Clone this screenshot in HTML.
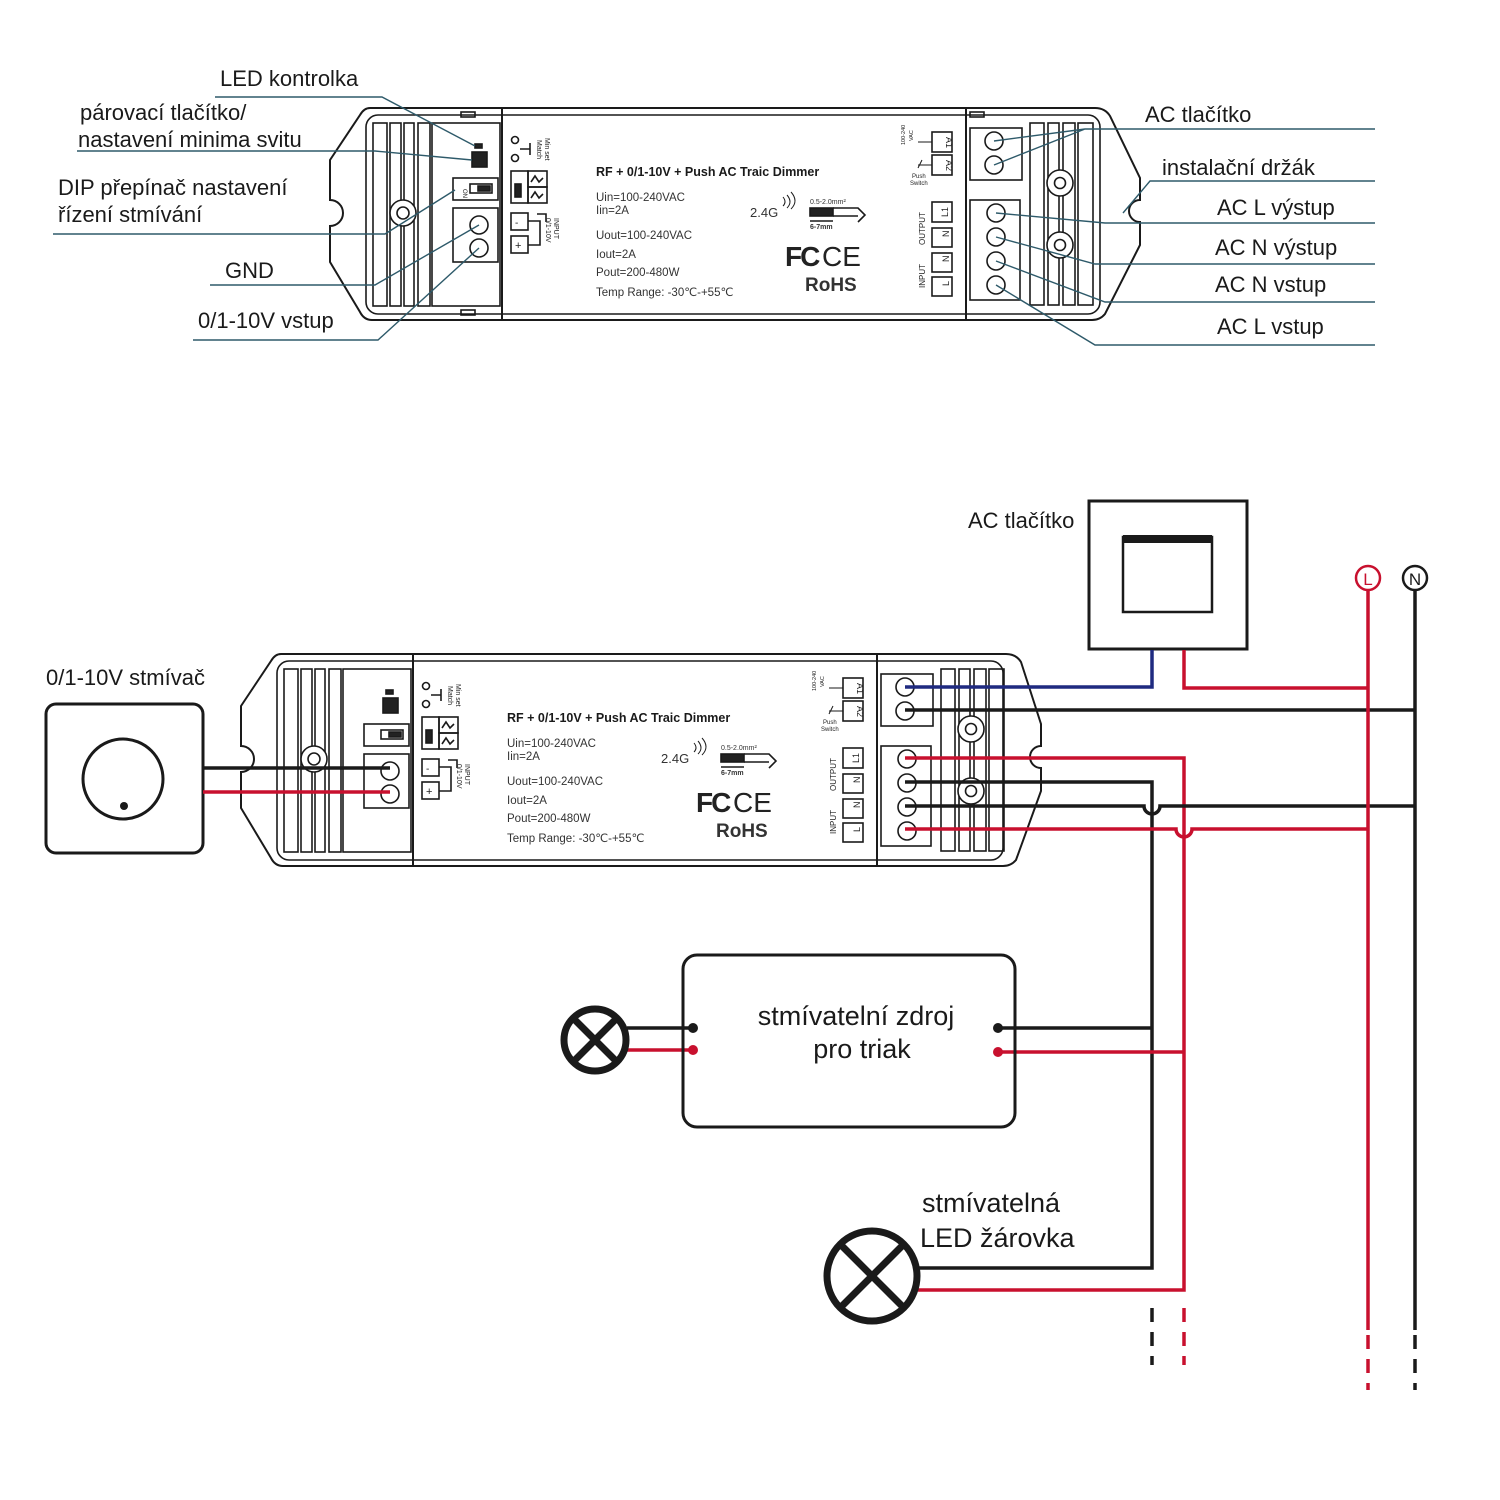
<!DOCTYPE html>
<html><head><meta charset="utf-8"><style>
html,body{margin:0;padding:0;background:#fff;}
svg{display:block;}
text{font-family:"Liberation Sans","DejaVu Sans",sans-serif;}
</style></head><body>
<svg width="1500" height="1500" viewBox="0 0 1500 1500" xmlns="http://www.w3.org/2000/svg">
<rect width="1500" height="1500" fill="#fff"/>

<!-- TOP DEVICE -->
<g id="dev" fill="none" stroke="#1a1a1a" stroke-width="1.6">
  <path d="M370,108 L1095,108 Q1105,108 1110,116 L1140,178 L1140,200 A11 11 0 0 0 1140,222 L1140,245 L1105,314 Q1100,320 1092,320 L372,320 Q364,320 360,312 L330,262 L330,226 A12 12 0 0 0 330,200 L330,160 L360,115 Q364,108 370,108 Z" stroke-width="2"/>
  <rect x="366" y="115" width="734" height="199" rx="12"/>
  <line x1="502" y1="108" x2="502" y2="320" stroke-width="2"/>
  <line x1="966" y1="108" x2="966" y2="320" stroke-width="2"/>
  <rect x="373" y="123" width="14" height="183"/>
  <rect x="390" y="123" width="11" height="183"/>
  <rect x="404" y="123" width="10" height="183"/>
  <rect x="418" y="123" width="12" height="183"/>
  <rect x="432" y="123" width="68" height="183"/>
  <rect x="461" y="112" width="14" height="5"/>
  <rect x="461" y="310" width="14" height="5"/>
  <circle cx="403" cy="213" r="13" fill="#fff"/>
  <circle cx="403" cy="213" r="6"/>
  <rect x="472" y="152" width="15" height="15" fill="#222"/>
  <rect x="475" y="144" width="7" height="4" fill="#222"/>
  <rect x="453" y="178" width="45" height="22"/>
  <rect x="470" y="184" width="22" height="9"/>
  <rect x="478" y="186" width="12" height="5" fill="#222"/>
  <text x="463" y="189" font-size="6" fill="#222" stroke="none" transform="rotate(90 463 189)">ON</text>
  <rect x="453" y="208" width="45" height="54"/>
  <circle cx="479" cy="225" r="9"/>
  <circle cx="479" cy="248" r="9"/>
  <circle cx="515" cy="140" r="3.5"/><circle cx="515" cy="158" r="3.5"/>
  <path d="M520,149 L530,149 M530,143 L530,155"/>
  <text x="537" y="140" font-size="7" fill="#222" stroke="none" transform="rotate(90 537 140)">Match</text>
  <text x="545" y="138" font-size="7" fill="#222" stroke="none" transform="rotate(90 545 138)">Min set</text>
  <rect x="511" y="171" width="17" height="32"/><rect x="528" y="171" width="19" height="16"/><rect x="528" y="187" width="19" height="16"/>
  <rect x="515" y="184" width="6" height="13" fill="#222"/>
  <path d="M531,182 l4,-6 l4,6 l4,-4 M531,198 l4,-6 l4,6 l4,-4"/>
  <rect x="511" y="213" width="17" height="17"/><rect x="511" y="236" width="17" height="17"/>
  <text x="515" y="226" font-size="10" fill="#222" stroke="none">-</text>
  <text x="515" y="249" font-size="11" fill="#222" stroke="none">+</text>
  <path d="M528,221 L540,221 L540,245 L528,245 M537,214 L546,214 L546,222"/>
  <text x="554" y="218" font-size="7" fill="#222" stroke="none" transform="rotate(90 554 218)">INPUT</text>
  <text x="546" y="218" font-size="7" fill="#222" stroke="none" transform="rotate(90 546 218)">0/1-10V</text>
  <text x="596" y="176" font-size="12.5" font-weight="bold" fill="#1a1a1a" stroke="none">RF + 0/1-10V + Push AC Traic Dimmer</text>
  <g font-size="11.5" fill="#333" stroke="none">
    <text x="596" y="201">Uin=100-240VAC</text>
    <text x="596" y="214">Iin=2A</text>
    <text x="596" y="239">Uout=100-240VAC</text>
    <text x="596" y="258">Iout=2A</text>
    <text x="596" y="276">Pout=200-480W</text>
    <text x="596" y="296">Temp Range: -30℃-+55℃</text>
    <text x="750" y="217" font-size="13">2.4G</text>
    <text x="810" y="204" font-size="7">0.5-2.0mm²</text>
    <text x="810" y="229" font-size="7" font-weight="bold">6-7mm</text>
  </g>
  <path d="M783,206 q4,-4 0,-9 M787,208 q6,-6 0,-13 M791,209 q8,-8 0,-17" stroke-width="1"/>
  <rect x="810" y="208" width="23" height="8" fill="#222"/>
  <path d="M833,208 L858,208 L865,215 L858,222 M833,216 L858,216 M810,221 L833,221"/>
  <text x="785" y="266" font-size="28" font-weight="bold" fill="#222" stroke="none" letter-spacing="-2">FC</text>
  <text x="822" y="266" font-size="28" fill="#222" stroke="none">CE</text>
  <text x="805" y="291" font-size="19" font-weight="bold" fill="#333" stroke="none">RoHS</text>
  <rect x="932" y="132" width="20" height="20"/><rect x="932" y="155" width="20" height="20"/>
  <text x="946" y="137" font-size="9" fill="#222" stroke="none" transform="rotate(90 946 137)">A1</text>
  <text x="946" y="160" font-size="9" fill="#222" stroke="none" transform="rotate(90 946 160)">A2</text>
  <path d="M918,142 L932,142 M918,165 L932,165 M918,168 L922,160" stroke-width="1"/>
  <text x="905" y="145" font-size="5.5" fill="#222" stroke="none" transform="rotate(-90 905 145)">100-240</text>
  <text x="913" y="141" font-size="5.5" fill="#222" stroke="none" transform="rotate(-90 913 141)">VAC</text>
  <text x="912" y="178" font-size="6" fill="#222" stroke="none">Push</text>
  <text x="910" y="185" font-size="6" fill="#222" stroke="none">Switch</text>
  <rect x="932" y="202" width="20" height="20"/><rect x="932" y="228" width="20" height="19"/>
  <rect x="932" y="253" width="20" height="19"/><rect x="932" y="277" width="20" height="19"/>
  <g font-size="9" fill="#222" stroke="none">
    <text x="945" y="215" transform="rotate(-90 945 212)" text-anchor="middle">L1</text>
    <text x="946" y="240" transform="rotate(-90 946 237)">N</text>
    <text x="946" y="265" transform="rotate(-90 946 262)">N</text>
    <text x="946" y="289" transform="rotate(-90 946 286)">L</text>
    <text x="925" y="245" font-size="8" transform="rotate(-90 925 245)">OUTPUT</text>
    <text x="925" y="288" font-size="8" transform="rotate(-90 925 288)">INPUT</text>
  </g>
  <rect x="970" y="128" width="52" height="52"/>
  <circle cx="994" cy="141" r="9"/><circle cx="994" cy="165" r="9"/>
  <rect x="970" y="200" width="50" height="100"/>
  <circle cx="996" cy="213" r="9"/><circle cx="996" cy="237" r="9"/><circle cx="996" cy="261" r="9"/><circle cx="996" cy="285" r="9"/>
  <rect x="970" y="112" width="14" height="5"/>
  <rect x="1030" y="123" width="14" height="182"/>
  <rect x="1048" y="123" width="11" height="182"/>
  <rect x="1063" y="123" width="12" height="182"/>
  <rect x="1078" y="123" width="15" height="182"/>
  <circle cx="1060" cy="183" r="13" fill="#fff"/><circle cx="1060" cy="183" r="5.5"/>
  <circle cx="1060" cy="245" r="13" fill="#fff"/><circle cx="1060" cy="245" r="5.5"/>
</g>

<!-- BOTTOM DEVICE -->
<g transform="translate(-89,546)" fill="none" stroke="#1a1a1a" stroke-width="1.6">
  <path d="M370,108 L1095,108 Q1105,108 1110,116 L1130,178 L1130,200 A11 11 0 0 0 1130,222 L1130,245 L1105,314 Q1100,320 1092,320 L372,320 Q364,320 360,312 L330,262 L330,226 A12 12 0 0 0 330,200 L330,160 L360,115 Q364,108 370,108 Z" stroke-width="2"/>
  <rect x="366" y="115" width="726" height="199" rx="12"/>
  <line x1="502" y1="108" x2="502" y2="320" stroke-width="2"/>
  <line x1="966" y1="108" x2="966" y2="320" stroke-width="2"/>
  <rect x="373" y="123" width="14" height="183"/><rect x="390" y="123" width="11" height="183"/>
  <rect x="404" y="123" width="10" height="183"/><rect x="418" y="123" width="12" height="183"/>
  <rect x="432" y="123" width="68" height="183"/>
  <circle cx="403" cy="213" r="13" fill="#fff"/><circle cx="403" cy="213" r="6"/>
  <rect x="472" y="152" width="15" height="15" fill="#222"/><rect x="475" y="144" width="7" height="4" fill="#222"/>
  <rect x="453" y="178" width="45" height="22"/><rect x="470" y="184" width="22" height="9"/><rect x="478" y="186" width="12" height="5" fill="#222"/>
  <rect x="453" y="208" width="45" height="54"/>
  <circle cx="479" cy="225" r="9"/><circle cx="479" cy="248" r="9"/>
  <circle cx="515" cy="140" r="3.5"/><circle cx="515" cy="158" r="3.5"/>
  <path d="M520,149 L530,149 M530,143 L530,155"/>
  <text x="537" y="140" font-size="7" fill="#222" stroke="none" transform="rotate(90 537 140)">Match</text>
  <text x="545" y="138" font-size="7" fill="#222" stroke="none" transform="rotate(90 545 138)">Min set</text>
  <rect x="511" y="171" width="17" height="32"/><rect x="528" y="171" width="19" height="16"/><rect x="528" y="187" width="19" height="16"/>
  <rect x="515" y="184" width="6" height="13" fill="#222"/>
  <path d="M531,182 l4,-6 l4,6 l4,-4 M531,198 l4,-6 l4,6 l4,-4"/>
  <rect x="511" y="213" width="17" height="17"/><rect x="511" y="236" width="17" height="17"/>
  <text x="515" y="226" font-size="10" fill="#222" stroke="none">-</text>
  <text x="515" y="249" font-size="11" fill="#222" stroke="none">+</text>
  <path d="M528,221 L540,221 L540,245 L528,245 M537,214 L546,214 L546,222"/>
  <text x="554" y="218" font-size="7" fill="#222" stroke="none" transform="rotate(90 554 218)">INPUT</text>
  <text x="546" y="218" font-size="7" fill="#222" stroke="none" transform="rotate(90 546 218)">0/1-10V</text>
  <text x="596" y="176" font-size="12.5" font-weight="bold" fill="#1a1a1a" stroke="none">RF + 0/1-10V + Push AC Traic Dimmer</text>
  <g font-size="11.5" fill="#333" stroke="none">
    <text x="596" y="201">Uin=100-240VAC</text><text x="596" y="214">Iin=2A</text>
    <text x="596" y="239">Uout=100-240VAC</text><text x="596" y="258">Iout=2A</text>
    <text x="596" y="276">Pout=200-480W</text><text x="596" y="296">Temp Range: -30℃-+55℃</text>
    <text x="750" y="217" font-size="13">2.4G</text>
    <text x="810" y="204" font-size="7">0.5-2.0mm²</text>
    <text x="810" y="229" font-size="7" font-weight="bold">6-7mm</text>
  </g>
  <path d="M783,206 q4,-4 0,-9 M787,208 q6,-6 0,-13 M791,209 q8,-8 0,-17" stroke-width="1"/>
  <rect x="810" y="208" width="23" height="8" fill="#222"/>
  <path d="M833,208 L858,208 L865,215 L858,222 M833,216 L858,216 M810,221 L833,221"/>
  <text x="785" y="266" font-size="28" font-weight="bold" fill="#222" stroke="none" letter-spacing="-2">FC</text>
  <text x="822" y="266" font-size="28" fill="#222" stroke="none">CE</text>
  <text x="805" y="291" font-size="19" font-weight="bold" fill="#333" stroke="none">RoHS</text>
  <rect x="932" y="132" width="20" height="20"/><rect x="932" y="155" width="20" height="20"/>
  <text x="946" y="137" font-size="9" fill="#222" stroke="none" transform="rotate(90 946 137)">A1</text>
  <text x="946" y="160" font-size="9" fill="#222" stroke="none" transform="rotate(90 946 160)">A2</text>
  <path d="M918,142 L932,142 M918,165 L932,165 M918,168 L922,160" stroke-width="1"/>
  <text x="905" y="145" font-size="5.5" fill="#222" stroke="none" transform="rotate(-90 905 145)">100-240</text>
  <text x="913" y="141" font-size="5.5" fill="#222" stroke="none" transform="rotate(-90 913 141)">VAC</text>
  <text x="912" y="178" font-size="6" fill="#222" stroke="none">Push</text>
  <text x="910" y="185" font-size="6" fill="#222" stroke="none">Switch</text>
  <rect x="932" y="202" width="20" height="20"/><rect x="932" y="228" width="20" height="19"/>
  <rect x="932" y="253" width="20" height="19"/><rect x="932" y="277" width="20" height="19"/>
  <g font-size="9" fill="#222" stroke="none">
    <text x="945" y="215" transform="rotate(-90 945 212)" text-anchor="middle">L1</text>
    <text x="946" y="240" transform="rotate(-90 946 237)">N</text>
    <text x="946" y="265" transform="rotate(-90 946 262)">N</text>
    <text x="946" y="289" transform="rotate(-90 946 286)">L</text>
    <text x="925" y="245" font-size="8" transform="rotate(-90 925 245)">OUTPUT</text>
    <text x="925" y="288" font-size="8" transform="rotate(-90 925 288)">INPUT</text>
  </g>
  <rect x="970" y="128" width="52" height="52"/>
  <circle cx="994" cy="141" r="9"/><circle cx="994" cy="165" r="9"/>
  <rect x="970" y="200" width="50" height="100"/>
  <circle cx="996" cy="213" r="9"/><circle cx="996" cy="237" r="9"/><circle cx="996" cy="261" r="9"/><circle cx="996" cy="285" r="9"/>
  <rect x="1030" y="123" width="14" height="182"/><rect x="1048" y="123" width="11" height="182"/>
  <rect x="1063" y="123" width="12" height="182"/><rect x="1078" y="123" width="15" height="182"/>
  <circle cx="1060" cy="183" r="13" fill="#fff"/><circle cx="1060" cy="183" r="5.5"/>
  <circle cx="1060" cy="245" r="13" fill="#fff"/><circle cx="1060" cy="245" r="5.5"/>
</g>

<g fill="none" stroke="#2e5a6a" stroke-width="1.4">
  <path d="M215,97 L382,97 L475,146"/>
  <path d="M77,151 L375,151 L472,160"/>
  <path d="M53,234 L385,234 L455,190"/>
  <path d="M210,285 L375,285 L479,225"/>
  <path d="M193,340 L378,340 L479,248"/>
  <path d="M1375,129 L1085,129 L994,141 M1085,129 L994,165"/>
  <path d="M1375,181 L1150,181 L1123,213"/>
  <path d="M1375,223 L1105,223 L996,213"/>
  <path d="M1375,264 L1095,264 L996,237"/>
  <path d="M1375,302 L1105,302 L996,261"/>
  <path d="M1375,345 L1095,345 L996,285"/>
</g>
<g font-size="22" fill="#1a1a1a">
  <text x="220" y="86">LED kontrolka</text>
  <text x="80" y="120">párovací tlačítko/</text>
  <text x="78" y="147">nastavení minima svitu</text>
  <text x="58" y="195">DIP přepínač nastavení</text>
  <text x="58" y="222">řízení stmívání</text>
  <text x="225" y="278">GND</text>
  <text x="198" y="328">0/1-10V vstup</text>
  <text x="1145" y="122">AC tlačítko</text>
  <text x="1162" y="175">instalační držák</text>
  <text x="1217" y="215">AC L výstup</text>
  <text x="1215" y="255">AC N výstup</text>
  <text x="1215" y="292">AC N vstup</text>
  <text x="1217" y="334">AC L vstup</text>
  <text x="968" y="528">AC tlačítko</text>
  <text x="46" y="685">0/1-10V stmívač</text>
  <text x="922" y="1212" font-size="27">stmívatelná</text>
  <text x="920" y="1247" font-size="27">LED žárovka</text>
  <text x="856" y="1025" font-size="27" text-anchor="middle">stmívatelní zdroj</text>
  <text x="862" y="1058" font-size="27" text-anchor="middle">pro triak</text>
</g>

<rect x="1089" y="501" width="158" height="148" fill="none" stroke="#1a1a1a" stroke-width="3"/>
<rect x="1123" y="537" width="89" height="75" fill="none" stroke="#1a1a1a" stroke-width="2.5"/>
<rect x="1123" y="535" width="89" height="8" fill="#1a1a1a"/>

<rect x="46" y="704" width="157" height="149" rx="10" fill="none" stroke="#1a1a1a" stroke-width="3"/>
<circle cx="123" cy="779" r="40" fill="none" stroke="#1a1a1a" stroke-width="3"/>
<circle cx="124" cy="806" r="4" fill="#1a1a1a"/>

<g fill="none" stroke-width="3.5">
  <path d="M203,768 L390,768" stroke="#1a1a1a"/>
  <path d="M203,792 L390,792" stroke="#c8102e"/>
  <path d="M905,687 L1152,687 L1152,650" stroke="#1f2a80"/>
  <path d="M1184,650 L1184,688 L1368,688" stroke="#c8102e"/>
  <path d="M905,710 L1415,710" stroke="#1a1a1a"/>
  <path d="M905,758 L1184,758 L1184,1290 L918,1290" stroke="#c8102e"/>
  <path d="M905,782 L1152,782 L1152,1268 L918,1268" stroke="#1a1a1a"/>
  <path d="M905,806 L1144,806 A8 8 0 0 0 1160,806 L1415,806" stroke="#1a1a1a"/>
  <path d="M905,829 L1176,829 A8 8 0 0 0 1192,829 L1368,829" stroke="#c8102e"/>
  <path d="M998,1028 L1152,1028" stroke="#1a1a1a"/>
  <path d="M998,1052 L1184,1052" stroke="#c8102e"/>
  <path d="M627,1028 L693,1028" stroke="#1a1a1a"/>
  <path d="M627,1050 L693,1050" stroke="#c8102e"/>
  <path d="M1368,590 L1368,1330" stroke="#c8102e"/>
  <path d="M1415,590 L1415,1330" stroke="#1a1a1a"/>
  <path d="M1368,1335 L1368,1390" stroke="#c8102e" stroke-dasharray="14,10"/>
  <path d="M1415,1335 L1415,1390" stroke="#1a1a1a" stroke-dasharray="14,10"/>
  <path d="M1152,1308 L1152,1365" stroke="#1a1a1a" stroke-dasharray="14,10"/>
  <path d="M1184,1308 L1184,1365" stroke="#c8102e" stroke-dasharray="14,10"/>
</g>
<circle cx="693" cy="1028" r="5" fill="#1a1a1a"/><circle cx="693" cy="1050" r="5" fill="#c8102e"/>
<circle cx="998" cy="1028" r="5" fill="#1a1a1a"/><circle cx="998" cy="1052" r="5" fill="#c8102e"/>

<circle cx="1368" cy="578" r="12" fill="#fff" stroke="#c8102e" stroke-width="2.5"/>
<text x="1368" y="585" font-size="17" text-anchor="middle" fill="#c8102e">L</text>
<circle cx="1415" cy="578" r="12" fill="#fff" stroke="#1a1a1a" stroke-width="2.5"/>
<text x="1415" y="585" font-size="17" text-anchor="middle" fill="#1a1a1a">N</text>

<rect x="683" y="955" width="332" height="172" rx="14" fill="none" stroke="#1a1a1a" stroke-width="3"/>

<g fill="none" stroke="#1a1a1a" stroke-width="7">
  <circle cx="595" cy="1040" r="31"/>
  <path d="M573,1018 L617,1062 M617,1018 L573,1062"/>
  <circle cx="872" cy="1276" r="45"/>
  <path d="M840,1244 L904,1308 M904,1244 L840,1308"/>
</g>
</svg>
</body></html>
